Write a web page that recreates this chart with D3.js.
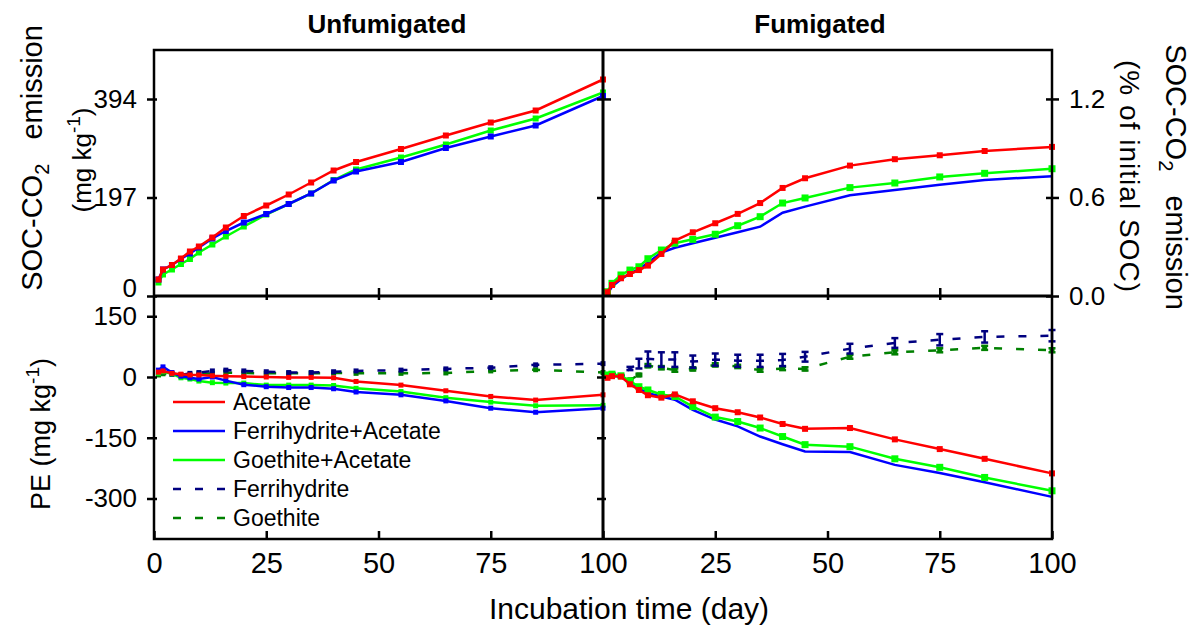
<!DOCTYPE html>
<html>
<head>
<meta charset="utf-8">
<script src="https://cdn.jsdelivr.net/npm/d3@7"></script>
<style>
  body { margin: 0; background: #fff; }
  text { font-family: Arial, "Liberation Sans", sans-serif; fill: #000; }
</style>
</head>
<body>
<div id="chart"></div>
<script>
const WIDTH = 1195, HEIGHT = 629;
const LEFT = { x0: 154, x1: 603 };
const RIGHT = { x0: 603, x1: 1052 };
const TOP = { y0: 50, y1: 296 };
const BOTTOM = { y0: 296, y1: 539 };

// incubation days
const days = [1, 2, 4, 6, 8, 10, 13, 16, 20, 25, 30, 35, 40, 45, 55, 65, 75, 85, 100];

// SOC-CO2 emission, unfumigated (mg kg-1)
const unfumCO2Acetate      = [33, 53, 62, 75, 89, 99, 117, 137, 160, 181, 203, 227, 251, 268, 294, 321, 347, 371, 433];
const unfumCO2FerriAcetate = [33, 53, 62, 74, 85, 97, 115, 130, 147, 164, 184, 205, 231, 249, 268, 296, 319, 341, 400];
const unfumCO2GoetAcetate  = [27, 43, 53, 64, 74, 87, 103, 119, 139, 163, 184, 205, 232, 253, 277, 303, 331, 355, 407];

// SOC-CO2 emission, fumigated (% of initial SOC)
const fumCO2Acetate      = [0.023, 0.067, 0.108, 0.134, 0.158, 0.185, 0.256, 0.337, 0.388, 0.443, 0.500, 0.566, 0.658, 0.717, 0.794, 0.833, 0.857, 0.883, 0.908];
const fumCO2FerriAcetate = [0.012, 0.057, 0.102, 0.138, 0.163, 0.203, 0.264, 0.294, 0.321, 0.355, 0.388, 0.422, 0.507, 0.544, 0.613, 0.646, 0.678, 0.707, 0.729];
const fumCO2GoetAcetate  = [0.026, 0.077, 0.128, 0.158, 0.178, 0.227, 0.280, 0.321, 0.345, 0.376, 0.428, 0.483, 0.566, 0.597, 0.660, 0.688, 0.725, 0.747, 0.775];

// priming effect, unfumigated (mg kg-1)
const unfumPEAcetate      = [12, 15, 9, 7, 5, 5, 3, 2, 1, 0, -1, -1, -2, -11, -20, -34, -48, -57, -44];
const unfumPEFerriAcetate = [17, 25, 11, 2, -2, -5, 0, -9, -19, -24, -26, -26, -29, -37, -44, -59, -77, -87, -77];
const unfumPEGoetAcetate  = [9, 13, 8, -2, -5, -10, -14, -15, -15, -20, -20, -20, -21, -28, -36, -51, -62, -71, -70];
const unfumPEFerri        = [9, 13, 7, 5, 9, 11, 15, 17, 15, 13, 11, 11, 13, 15, 17, 20, 23, 30, 33];
const unfumPEGoet         = [5, 8, 7, 5, 5, 8, 9, 11, 10, 9, 9, 9, 10, 9, 9, 10, 15, 18, 11];

// priming effect, fumigated (mg kg-1)
const fumPEAcetate      = [-2, 2, 1, -18, -32, -45, -51, -43, -60, -77, -87, -100, -116, -128, -126, -154, -178, -202, -238];
const fumPEFerriAcetate = [-2, 3, 1, -16, -28, -40, -48, -56, -81, -105, -122, -147, -166, -184, -185, -217, -237, -260, -296];
const fumPEGoetAcetate  = [5, 7, 3, -10, -24, -32, -43, -48, -73, -99, -110, -126, -147, -167, -172, -202, -223, -248, -281];
const fumPEFerri        = [5, 7, 3, 21, 33, 45, 43, 43, 38, 43, 40, 40, 42, 50, 70, 84, 92, 99, 102];
const fumPEFerriErr     = [2, 2, 2, 4, 12, 18, 18, 18, 15, 15, 15, 15, 15, 12, 12, 12, 14, 14, 14];
const fumPEGoet         = [5, 7, 3, -7, 5, 28, 23, 17, 20, 30, 26, 17, 21, 20, 50, 61, 66, 72, 66];
const fumPEGoetErr      = [1, 1, 1, 2, 3, 4, 4, 4, 4, 4, 4, 4, 4, 4, 5, 5, 5, 5, 5];

const xTicks = [0, 25, 50, 75, 100];
const leftTopTicks = [0, 197, 394];
const rightTopTicks = [0, 0.6, 1.2];
const peTicks = [-300, -150, 0, 150];

const seriesNames = ["Acetate", "Ferrihydrite+Acetate", "Goethite+Acetate", "Ferrihydrite", "Goethite"];
const seriesColors = ["#ff0000", "#0000ff", "#00ff00", "#000080", "#008000"];
const DASH = "8,14";

const svg = d3.select("#chart").append("svg")
    .attr("width", WIDTH)
    .attr("height", HEIGHT);

const xL = d3.scaleLinear([0, 100], [LEFT.x0, LEFT.x1]);
const xR = d3.scaleLinear([0, 100], [RIGHT.x0, RIGHT.x1]);
const yTL = d3.scaleLinear([0, 492], [TOP.y1, TOP.y0]);
const yTR = d3.scaleLinear([0, 1.498], [TOP.y1, TOP.y0]);
const yB = d3.scaleLinear([-400, 200], [BOTTOM.y1, BOTTOM.y0]);

// draw one series: line + optional square markers + optional error bars
function drawSeries(x, y, values, color, opts = {}) {
    const g = svg.append("g");
    const pts = days.map((d, i) => ({ d, v: values[i], e: opts.err ? opts.err[i] : 0 }));
    const line = d3.line().x(p => x(p.d)).y(p => y(p.v));
    if (opts.err) {
        const eb = g.selectAll(".eb").data(pts).join("g")
            .attr("stroke", color).attr("stroke-width", 2.5);
        eb.append("line")
            .attr("x1", p => x(p.d)).attr("x2", p => x(p.d))
            .attr("y1", p => y(p.v + p.e)).attr("y2", p => y(p.v - p.e));
        eb.append("line")
            .attr("x1", p => x(p.d) - 3.5).attr("x2", p => x(p.d) + 3.5)
            .attr("y1", p => y(p.v + p.e)).attr("y2", p => y(p.v + p.e));
        eb.append("line")
            .attr("x1", p => x(p.d) - 3.5).attr("x2", p => x(p.d) + 3.5)
            .attr("y1", p => y(p.v - p.e)).attr("y2", p => y(p.v - p.e));
    }
    g.append("path")
        .datum(pts)
        .attr("d", line)
        .attr("fill", "none")
        .attr("stroke", color)
        .attr("stroke-width", 2.5)
        .attr("stroke-dasharray", opts.dashed ? DASH : null);
    if (opts.marker) {
        const s = opts.marker;
        g.selectAll("rect").data(pts).join("rect")
            .attr("x", p => x(p.d) - s / 2)
            .attr("y", p => y(p.v) - s / 2)
            .attr("width", s).attr("height", s)
            .attr("fill", color);
    }
}

// top-left: unfumigated CO2
drawSeries(xL, yTL, unfumCO2GoetAcetate, seriesColors[2], { marker: 6 });
drawSeries(xL, yTL, unfumCO2FerriAcetate, seriesColors[1], { marker: 6 });
drawSeries(xL, yTL, unfumCO2Acetate, seriesColors[0], { marker: 6 });

// top-right: fumigated CO2
drawSeries(xR, yTR, fumCO2FerriAcetate, seriesColors[1], {});
drawSeries(xR, yTR, fumCO2GoetAcetate, seriesColors[2], { marker: 7 });
drawSeries(xR, yTR, fumCO2Acetate, seriesColors[0], { marker: 6 });

// bottom-left: unfumigated PE
drawSeries(xL, yB, unfumPEGoet, seriesColors[4], { dashed: true, marker: 5 });
drawSeries(xL, yB, unfumPEFerri, seriesColors[3], { dashed: true, marker: 5 });
drawSeries(xL, yB, unfumPEGoetAcetate, seriesColors[2], { marker: 5 });
drawSeries(xL, yB, unfumPEFerriAcetate, seriesColors[1], { marker: 5 });
drawSeries(xL, yB, unfumPEAcetate, seriesColors[0], { marker: 5 });

// bottom-right: fumigated PE
drawSeries(xR, yB, fumPEGoet, seriesColors[4], { dashed: true, marker: 5, err: fumPEGoetErr });
drawSeries(xR, yB, fumPEFerri, seriesColors[3], { dashed: true, err: fumPEFerriErr });
drawSeries(xR, yB, fumPEFerriAcetate, seriesColors[1], {});
drawSeries(xR, yB, fumPEGoetAcetate, seriesColors[2], { marker: 7 });
drawSeries(xR, yB, fumPEAcetate, seriesColors[0], { marker: 6 });

// frame lines
const frame = svg.append("g").attr("stroke", "#000").attr("stroke-width", 2.5);
frame.append("rect")
    .attr("x", LEFT.x0).attr("y", TOP.y0)
    .attr("width", RIGHT.x1 - LEFT.x0).attr("height", BOTTOM.y1 - TOP.y0)
    .attr("fill", "none");
frame.append("line").attr("x1", LEFT.x1).attr("x2", LEFT.x1)
    .attr("y1", TOP.y0).attr("y2", BOTTOM.y1).attr("stroke-width", 3);
frame.append("line").attr("x1", LEFT.x0).attr("x2", RIGHT.x1)
    .attr("y1", TOP.y1).attr("y2", TOP.y1).attr("stroke-width", 3);

// axes helper
const plain = d => String(d);   // keep the ASCII hyphen as minus sign
function styleAxis(g, size = 26) {
    g.select(".domain").remove();
    g.selectAll(".tick line").attr("stroke", "#000").attr("stroke-width", 2.5);
    g.selectAll(".tick text").attr("font-size", size).attr("font-family", "Arial, 'Liberation Sans', sans-serif").attr("fill", "#000");
}

// left y axes with labels (outward) + small inward stubs
svg.append("g").attr("transform", `translate(${LEFT.x0},0)`)
    .call(d3.axisLeft(yTL).tickValues(leftTopTicks).tickSize(7).tickPadding(10).tickFormat(plain))
    .call(styleAxis)
    .call(g => g.selectAll(".tick text").filter(d => d === 0).attr("dy", "0.02em"));
svg.append("g").attr("transform", `translate(${LEFT.x0},0)`)
    .call(d3.axisRight(yTL).tickValues(leftTopTicks).tickSize(3).tickFormat(""))
    .call(styleAxis);
svg.append("g").attr("transform", `translate(${LEFT.x0},0)`)
    .call(d3.axisLeft(yB).tickValues(peTicks).tickSize(7).tickPadding(10).tickFormat(plain))
    .call(styleAxis);
svg.append("g").attr("transform", `translate(${LEFT.x0},0)`)
    .call(d3.axisRight(yB).tickValues(peTicks).tickSize(3).tickFormat(""))
    .call(styleAxis);

// right y axis (fumigated %)
svg.append("g").attr("transform", `translate(${RIGHT.x1},0)`)
    .call(d3.axisRight(yTR).tickValues(rightTopTicks).tickSize(7).tickPadding(10).tickFormat(d3.format(".1f")))
    .call(styleAxis);
svg.append("g").attr("transform", `translate(${RIGHT.x1},0)`)
    .call(d3.axisLeft(yTR).tickValues(rightTopTicks).tickSize(6).tickFormat(""))
    .call(styleAxis);

// inward ticks on the middle divider
svg.append("g").attr("transform", `translate(${LEFT.x1},0)`)
    .call(d3.axisLeft(yTL).tickValues(leftTopTicks.slice(1)).tickSize(6).tickFormat(""))
    .call(styleAxis);
svg.append("g").attr("transform", `translate(${LEFT.x1},0)`)
    .call(d3.axisRight(yTR).tickValues(rightTopTicks.slice(1)).tickSize(8).tickFormat(""))
    .call(styleAxis);
svg.append("g").attr("transform", `translate(${LEFT.x1},0)`)
    .call(d3.axisLeft(yB).tickValues(peTicks).tickSize(6).tickFormat(""))
    .call(styleAxis);
svg.append("g").attr("transform", `translate(${LEFT.x1},0)`)
    .call(d3.axisRight(yB).tickValues(peTicks).tickSize(3).tickFormat(""))
    .call(styleAxis);

// x ticks: bottom axis (labelled), top-panel bottom edge, bottom-panel top edge
[[xL, xTicks], [xR, xTicks.slice(1)]].forEach(([x, ticks]) => {
    svg.append("g").attr("transform", `translate(0,${BOTTOM.y1})`)
        .call(d3.axisBottom(x).tickValues(ticks).tickSizeInner(-8).tickSizeOuter(0).tickPadding(13).tickFormat(plain))
        .call(g => styleAxis(g, 29));
    svg.append("g").attr("transform", `translate(0,${TOP.y1})`)
        .call(d3.axisTop(x).tickValues([25, 50, 75]).tickSize(8).tickFormat(""))
        .call(styleAxis);
    svg.append("g").attr("transform", `translate(0,${BOTTOM.y0})`)
        .call(d3.axisBottom(x).tickValues([25, 50, 75]).tickSize(4).tickFormat(""))
        .call(styleAxis);
});

// panel titles
svg.append("text").attr("x", 387).attr("y", 33)
    .attr("text-anchor", "middle").attr("font-size", 26).attr("font-weight", "bold")
    .text("Unfumigated");
svg.append("text").attr("x", 820).attr("y", 33)
    .attr("text-anchor", "middle").attr("font-size", 26).attr("font-weight", "bold")
    .text("Fumigated");

// axis titles
function socTitle(sel) {
    sel.append("tspan").text("SOC-CO");
    sel.append("tspan").attr("dy", 7).attr("font-size", 20).text("2");
    sel.append("tspan").attr("dy", -7).text("\u00a0\u00a0\u00a0emission");
}
function mgKg(sel, prefix) {
    sel.append("tspan").text(prefix + "(mg kg");
    sel.append("tspan").attr("dy", -11).attr("font-size", 19).text("-1");
    sel.append("tspan").attr("dy", 11).text(")");
}

svg.append("text")
    .attr("transform", "translate(42,158) rotate(-90)")
    .attr("text-anchor", "middle").attr("font-size", 29)
    .call(socTitle);
svg.append("text")
    .attr("transform", "translate(91,160) rotate(-90)")
    .attr("text-anchor", "middle").attr("font-size", 26)
    .call(s => mgKg(s, ""));
svg.append("text")
    .attr("transform", "translate(50,434) rotate(-90)")
    .attr("text-anchor", "middle").attr("font-size", 27)
    .call(s => mgKg(s, "PE "));

svg.append("text")
    .attr("transform", "translate(1166,177) rotate(90)")
    .attr("text-anchor", "middle").attr("font-size", 29)
    .call(socTitle);
svg.append("text")
    .attr("transform", "translate(1120,176) rotate(90)")
    .attr("text-anchor", "middle").attr("font-size", 28)
    .attr("textLength", 232).attr("lengthAdjust", "spacing")
    .text("(% of initial SOC)");

svg.append("text").attr("x", 629).attr("y", 619)
    .attr("text-anchor", "middle").attr("font-size", 30)
    .text("Incubation time (day)");

// legend
const legendY = [402, 431, 460, 489, 518];
const legend = svg.append("g");
seriesNames.forEach((name, i) => {
    legend.append("line")
        .attr("x1", 173).attr("x2", 225)
        .attr("y1", legendY[i]).attr("y2", legendY[i])
        .attr("stroke", seriesColors[i]).attr("stroke-width", 2.5)
        .attr("stroke-dasharray", i >= 3 ? DASH : null);
    legend.append("text")
        .attr("x", 233).attr("y", legendY[i] + 8)
        .attr("font-size", 23)
        .text(name);
});
</script>
</body>
</html>
